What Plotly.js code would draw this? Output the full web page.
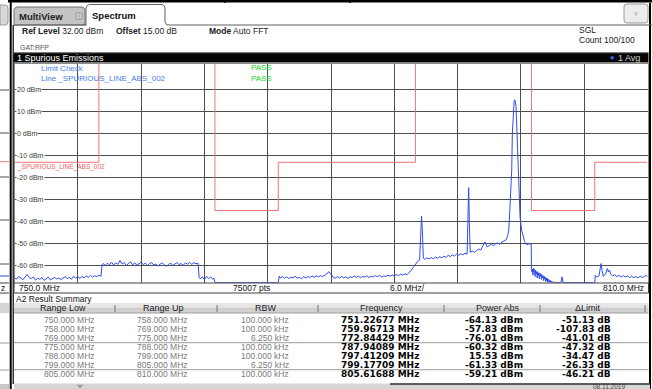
<!DOCTYPE html>
<html><head><meta charset="utf-8">
<script src="https://cdn.plot.ly/plotly-3.0.1.min.js"></script>
<style>html,body{margin:0;padding:0;background:#fff;overflow:hidden}#chart{width:652px;height:389px}</style>
</head><body><div id="chart"></div>
<script>
// ---------- DATA ----------
const traceFreq = [
750.0,750.2,750.4,750.6,750.8,751.0,751.2,751.4,751.6,751.8,752.0,752.2,752.4,752.6,752.8,753.0,753.2,753.4,753.6,753.8,754.0,754.2,754.4,754.6,754.8,755.0,755.2,755.4,755.6,755.8,756.0,756.2,756.4,756.6,756.8,757.0,757.2,757.4,757.6,757.8,758.0,758.2,
758.3,
758.4,758.6,758.8,759.0,759.2,759.4,759.6,759.8,760.0,760.2,760.4,760.6,760.8,761.0,761.2,761.4,761.6,761.8,762.0,762.2,762.4,762.6,762.8,763.0,763.2,763.4,763.6,763.8,764.0,764.2,764.4,764.6,764.8,765.0,765.2,765.4,765.6,765.8,766.0,766.2,766.4,766.6,766.8,767.0,767.2,767.4,
767.5,767.6,767.8,768.0,768.2,768.4,768.6,768.8,768.9,
769.0,775.0,775.1,
775.2,775.4,775.6,775.8,776.0,776.2,776.4,776.6,776.8,777.0,777.2,777.4,777.6,777.8,778.0,778.2,778.4,778.6,778.8,779.0,779.2,779.4,779.6,779.8,780.0,780.2,780.4,780.6,780.8,781.0,781.2,781.4,781.6,781.8,782.0,782.2,782.4,782.6,782.8,783.0,783.2,783.4,783.6,783.8,784.0,784.2,784.4,784.6,784.8,785.0,785.2,785.4,785.6,785.8,786.0,786.2,786.4,786.6,786.8,787.0,787.2,787.4,
787.6,787.8,788.0,788.2,788.4,788.5,788.58,788.66,788.75,
788.9,789.1,789.3,789.5,789.7,789.9,790.1,790.3,790.5,790.7,790.9,791.1,791.3,791.5,791.7,791.9,792.1,792.3,792.5,792.7,792.9,
793.0,793.05,793.12,793.2,
793.4,793.6,793.8,794.0,794.2,794.4,794.6,794.8,795.0,795.2,795.4,795.6,795.8,796.0,796.2,796.4,796.6,
796.75,796.85,796.95,797.05,797.13,797.19,797.28,797.36,797.41,797.47,797.54,797.63,797.7,797.8,797.92,798.07,798.22,798.35,798.48,798.6,798.75,798.9,798.98,
799.0,
799.05,799.1,799.15,799.2,799.25,799.3,799.35,799.4,799.45,799.5,799.55,799.6,799.65,799.7,799.75,799.8,799.85,799.9,799.95,800.0,800.05,800.1,800.15,800.2,800.25,800.3,800.35,800.4,800.45,800.5,800.55,800.6,800.65,800.7,800.75,800.8,800.85,800.9,800.95,801.0,801.1,
801.8,801.9,802.0,805.0,
805.05,805.2,805.4,805.5,805.6,805.7,805.8,806.0,806.1,806.2,806.3,806.4,806.5,806.7,806.9,807.1,807.3,807.5,807.7,807.9,808.1,808.3,808.5,808.7,808.9,809.1,809.3,809.5,809.7,809.9,810.0
];
const traceLevel = [
-65.8,-66.3,-65.1,-65.9,-66.6,-65.4,-64.2,-65.7,-66.1,-65.3,-66.8,-65.9,-66.4,-65.6,-66.9,-66.2,-65.4,-66.7,-66.0,-65.5,-66.3,-65.8,-66.5,-65.9,-65.2,-66.1,-65.6,-66.4,-65.0,-65.8,-65.3,-66.0,-65.1,-65.7,-64.9,-65.5,-64.6,-65.4,-64.8,-65.2,-64.5,-65.0,
-59.8,
-59.2,-60.1,-59.0,-59.8,-58.6,-59.9,-58.9,-59.6,-57.8,-59.4,-58.7,-60.2,-59.1,-58.5,-59.8,-58.9,-60.0,-59.3,-58.6,-59.7,-59.0,-60.3,-59.2,-58.8,-59.9,-59.4,-60.4,-59.5,-58.9,-59.8,-60.5,-59.6,-59.0,-60.1,-59.4,-58.8,-59.7,-59.2,-60.0,-58.9,-59.5,-58.7,-59.6,-58.8,-59.3,-59.1,
-65.6,-66.2,-65.3,-66.5,-65.1,-66.0,-65.4,-66.3,-65.8,
-67.9,-67.9,-64.9,
-65.8,-65.1,-65.9,-65.3,-66.1,-65.4,-65.7,-65.0,-65.9,-65.5,-66.2,-65.2,-65.8,-65.1,-65.6,-64.9,-65.5,-64.8,-65.3,-64.7,-65.2,-64.6,-64.0,-62.9,-64.3,-65.4,-65.9,-65.2,-65.8,-65.1,-65.7,-65.3,-66.0,-65.2,-65.6,-64.9,-65.5,-65.0,-65.7,-65.1,-65.4,-64.8,-65.6,-65.0,-65.3,-64.7,-65.2,-64.6,-65.4,-64.9,-65.1,-64.5,-65.0,-64.4,-64.9,-64.2,-64.7,-64.1,-64.5,-63.9,-64.3,-63.4,
-62.3,-61.0,-59.5,-58.3,-57.6,-45.0,-37.5,-44.0,-56.8,
-57.3,-56.6,-57.1,-56.5,-57.0,-56.3,-56.8,-56.1,-56.6,-55.9,-56.4,-55.5,-56.0,-55.3,-55.8,-54.9,-55.4,-54.7,-55.2,-54.5,-54.9,
-40.0,-24.6,-42.0,-54.0,
-53.5,-54.1,-53.2,-52.6,-53.0,-51.4,-49.3,-51.6,-51.0,-50.4,-51.1,-50.2,-49.8,-50.5,-49.4,-48.9,-48.4,
-46.5,-43.9,-35.0,-24.0,-16.5,0.2,12.4,15.0,15.53,14.8,12.4,0.0,-16.5,-28.0,-38.0,-43.9,-47.0,-49.2,-50.3,-50.6,-50.2,-50.5,-50.4,
-61.5,
-63.0,-61.8,-64.5,-61.3,-63.2,-62.0,-65.1,-62.4,-64.0,-62.9,-65.8,-63.0,-64.6,-63.5,-66.2,-63.6,-65.0,-64.1,-66.5,-64.3,-65.7,-64.8,-67.0,-65.0,-66.3,-65.4,-67.4,-65.8,-66.9,-66.0,-67.8,-66.4,-67.3,-66.7,-67.9,-67.0,-67.6,-67.2,-67.9,-67.5,-67.9,
-67.9,-65.3,-67.9,-67.9,
-64.6,-65.3,-64.8,-62.0,-59.2,-62.5,-65.0,-64.2,-62.6,-61.5,-63.0,-62.2,-64.0,-64.8,-64.3,-65.2,-64.6,-65.4,-64.7,-65.3,-64.9,-65.6,-65.0,-65.7,-65.1,-65.8,-64.9,-65.6,-65.2,-64.6,-65.3
];
const limitStart = [750, 758, 769, 775, 788, 799, 805];
const limitStop  = [758, 769, 775, 788, 799, 805, 810];
const limitLevel = [-13, 50, -35, -13, 50, -35, -13];
const yTickVals = [20, 10, 0, -10, -20, -30, -40, -50, -60];
const yTickText = ['20 dBm', '10 dBm', '0 dBm', '-10 dBm', '-20 dBm', '-30 dBm', '-40 dBm', '-50 dBm', '-60 dBm'];
const xGridVals = [756, 762, 768, 774, 780, 786, 792, 798, 804];
const tableHeaders = ['Range Low', 'Range Up', 'RBW', 'Frequency', 'Power Abs', '\u0394Limit'];
const rangeLow = ['750.000 MHz', '758.000 MHz', '769.000 MHz', '775.000 MHz', '788.000 MHz', '799.000 MHz', '805.000 MHz'];
const rangeUp  = ['758.000 MHz', '769.000 MHz', '775.000 MHz', '788.000 MHz', '799.000 MHz', '805.000 MHz', '810.000 MHz'];
const rbw      = ['100.000 kHz', '100.000 kHz', '6.250 kHz', '100.000 kHz', '100.000 kHz', '6.250 kHz', '100.000 kHz'];
const peakFreq = ['751.22677 MHz', '759.96713 MHz', '772.84429 MHz', '787.94089 MHz', '797.41209 MHz', '799.17709 MHz', '805.61688 MHz'];
const powerAbs = ['-64.13 dBm', '-57.83 dBm', '-76.01 dBm', '-60.32 dBm', '15.53 dBm', '-61.33 dBm', '-59.21 dBm'];
const deltaLimit = ['-51.13 dB', '-107.83 dB', '-41.01 dB', '-47.32 dB', '-34.47 dB', '-26.33 dB', '-46.21 dB'];

// ---------- LAYOUT HELPERS ----------
const W = 652, H = 389;
const X = p => p / W, Y = p => 1 - p / H;
const FONT = 'Liberation Sans, Arial, sans-serif';
const shapes = [], annotations = [];
function rect(x0, y0, x1, y1, fill, line, lw, layer) {
  shapes.push({type:'rect', xref:'paper', yref:'paper', x0:X(x0), x1:X(x1), y0:Y(y1), y1:Y(y0),
    fillcolor: fill || 'rgba(0,0,0,0)', line:{color: line || 'rgba(0,0,0,0)', width: lw === undefined ? (line ? 1 : 0) : lw}, layer: layer || 'above'});
}
function seg(x0, y0, x1, y1, color, w, layer) {
  shapes.push({type:'line', xref:'paper', yref:'paper', x0:X(x0), x1:X(x1), y0:Y(y0), y1:Y(y1),
    line:{color:color, width:w || 1}, layer: layer || 'above'});
}
function path(d, fill, line, lw, layer) {
  const pd = d.replace(/(-?[\d.]+),(-?[\d.]+)/g, (m, a, b) => X(+a).toFixed(5) + ',' + Y(+b).toFixed(5));
  shapes.push({type:'path', xref:'paper', yref:'paper', path: pd, fillcolor: fill || 'rgba(0,0,0,0)',
    line:{color: line || 'rgba(0,0,0,0)', width: lw === undefined ? 1 : lw}, layer: layer || 'above'});
}
function txt(x, y, s, size, color, o) {
  o = o || {};
  annotations.push({xref:'paper', yref:'paper', x:X(x), y:Y(y), text:s, showarrow:false,
    xanchor:o.anchor || 'left', yanchor:'middle', borderpad:o.pad === undefined ? 0 : o.pad,
    bgcolor:o.bg || 'rgba(0,0,0,0)',
    font:{family:o.family || FONT, size:size, color:color, weight:o.weight || 'normal'}});
}

// ---------- CHROME ----------
seg(8, 1.2, 652, 1.2, '#000', 2.5);
seg(225, 0, 225, 3, '#000', 1.5);
seg(350, 0, 350, 3, '#000', 1.5);
// left strip (neighbouring window)
path('M0,5 L5,5 Q8,5 8,8 L8,22 Q8,25 5,25 L0,25 Z', '#d8d8d8', '#9a9a9a', 1);
[90, 133, 177, 220, 264].forEach(v => seg(0, v, 9, v, '#505050', 1));
seg(0, 161.7, 9, 161.7, '#f07070', 1);
seg(0, 276, 9, 276, '#3050ee', 1);
txt(0, 288, 'z', 8.5, '#111');
seg(0, 283, 9, 283, '#444', 1);
seg(0, 293, 9, 293, '#444', 1);
rect(0, 303, 9, 313, '#d4d4d4', null, 0);
seg(0, 343, 9, 343, '#999', 1);
seg(0, 370, 9, 370, '#999', 1);
rect(0, 384, 9, 389, '#c8c8c8', null, 0);
seg(10.7, 0, 10.7, 389, '#000', 2);
seg(13.2, 25, 13.2, 384, '#000', 1.2);
seg(650, 3, 650, 389, '#000', 2);

// tabs
path('M14,25 L14,11 Q14,7 18,7 L81,7 Q85,7 85,11 L85,25 Z', '#c4c4c4', '#707070', 1);
txt(18, 16.5, '<b>MultiView</b>', 9.5, '#222');
rect(76, 13, 82, 19, '#e0e0e0', '#8a8a8a', 0.8);
seg(79, 13, 79, 19, '#8a8a8a', 0.6);
seg(76, 16, 82, 16, '#8a8a8a', 0.6);
path('M86,25.5 L86,9 Q86,4.5 90.5,4.5 L161,4.5 Q165,4.5 165,9 L165,21 Q165,25 169,25 L652,25', '#ffffff', '#606060', 1);
seg(14, 25, 86, 25, '#606060', 1);
txt(91, 15.5, '<b>Spectrum</b>', 9.5, '#111');
path('M627,4 L645,4 Q648,4 648,7 L648,20 Q648,23 645,23 L627,23 Q624,23 624,20 L624,7 Q624,4 627,4 Z', '#ececec', '#9a9a9a', 1);
txt(636, 13.5, '\u25BF', 7, '#888', {anchor:'center'});

// info lines
txt(21, 31, '<b>Ref Level</b> 32.00 dBm', 8.5, '#222');
txt(115, 31, '<b>Offset</b> 15.00 dB', 8.5, '#222');
txt(208, 31, '<b>Mode</b> Auto FFT', 8.5, '#222');
txt(578, 30, 'SGL', 8.5, '#222');
txt(578, 40.5, 'Count 100/100', 8.5, '#222');
txt(19, 47.5, 'GAT:RFP', 7, '#555');

// title bar
rect(13.5, 52.5, 648.5, 62.5, '#050505', null, 0);
seg(13.5, 52.8, 648.5, 52.8, '#777', 0.8);
txt(16, 57.8, '1 Spurious Emissions', 9, '#ffffff');
shapes.push({type:'circle', xref:'paper', yref:'paper', x0:X(610.5), x1:X(614), y0:Y(59.5), y1:Y(56), fillcolor:'#3060ff', line:{width:0}, layer:'above'});
txt(617, 57.8, '1 Avg', 9, '#cfcfcf');

// in-plot texts
txt(40, 68.5, 'Limit Check', 8, '#4a7cf0');
txt(40, 78.5, 'Line _SPURIOUS_LINE_ABS_002', 8, '#4a7cf0');
txt(250, 68, 'PASS', 8, '#20dd20');
txt(250, 78.5, 'PASS', 8, '#20dd20');
txt(16, 167, '_SPURIOUS_LINE_ABS_002', 6.5, '#f06060');
const yPix = v => 63.7 + (32 - v) * 2.19;
yTickVals.forEach((v, i) => txt(16, yPix(v), yTickText[i], 7, '#3a3a3a', {bg:'#ffffff', pad:0}));

// bottom axis bar
rect(14, 283, 648.5, 293, '#ffffff', '#404040', 1);
txt(18, 288, '750.0 MHz', 8.5, '#111');
txt(232, 288, '75007 pts', 8.5, '#111');
txt(389, 288, '6.0 MHz/', 8.5, '#111');
txt(645, 288, '810.0 MHz', 8.5, '#111', {anchor:'right'});

// result summary
txt(15, 298.5, 'A2 Result Summary', 8.5, '#111');
rect(14, 303, 648.5, 307.5, '#e6e6e6', null, 0);
rect(14, 307.5, 648.5, 313, '#d0d0d0', null, 0);
seg(14, 313, 648.5, 313, '#a0a0a0', 1);
[115, 217, 318, 444, 540, 645].forEach(x => seg(x, 305, x, 312, '#777', 1));
const headCenters = [63, 163, 266, 381, 498, 588];
tableHeaders.forEach((h, i) => txt(headCenters[i], 308, h, 9, '#222', {anchor:'center'}));
const rowY = [320, 329, 338, 347, 356, 365, 374];
seg(14, 342.7, 648.5, 342.7, '#9a9a9a', 1);
seg(14, 369.7, 648.5, 369.7, '#9a9a9a', 1);
rowY.forEach((y, i) => {
  txt(96, y, rangeLow[i], 8.5, '#7a7a7a', {anchor:'right'});
  txt(189, y, rangeUp[i], 8.5, '#7a7a7a', {anchor:'right'});
  txt(290, y, rbw[i], 8.5, '#7a7a7a', {anchor:'right'});
  txt(420, y, peakFreq[i], 9, '#050505', {anchor:'right', family:'DejaVu Sans, sans-serif', weight:'bold'});
  txt(524, y, powerAbs[i], 9, '#050505', {anchor:'right', family:'DejaVu Sans, sans-serif', weight:'bold'});
  txt(612, y, deltaLimit[i], 9, '#050505', {anchor:'right', family:'DejaVu Sans, sans-serif', weight:'bold'});
});
// bottom status strip
rect(14, 383.5, 650, 389, '#d6d6d6', null, 0);
seg(390, 384, 650, 384, '#303030', 1.5);
path('M77,385 L83,385 L80,388 Z', '#9a9a9a', '#9a9a9a', 0.5);
txt(592, 386.3, '08.11.2019', 6.5, '#444');

// ---------- TRACES ----------
const limX = [], limY = [];
limitStart.forEach((s, i) => { limX.push(s, limitStop[i]); limY.push(limitLevel[i], limitLevel[i]); });

const data = [
  {type:'scatter', mode:'lines', x: limX, y: limY, line:{color:'#f07474', width:1}, hoverinfo:'skip', showlegend:false},
  {type:'scatter', mode:'lines', x: traceFreq, y: traceLevel, line:{color:'#2f4cf0', width:1}, hoverinfo:'skip', showlegend:false}
];

const layout = {
  width: W, height: H,
  margin: {l:0, r:0, t:0, b:0, pad:0},
  paper_bgcolor: '#ffffff', plot_bgcolor: '#ffffff',
  showlegend: false,
  xaxis: {domain:[14.5/W, 647.5/W], range:[750, 810], tickvals: xGridVals, showticklabels:false, ticks:'',
    showgrid:true, gridcolor:'#4e4e4e', gridwidth:1, zeroline:false, showline:true, mirror:true, linecolor:'#8a8a8a', linewidth:1, fixedrange:true},
  yaxis: {domain:[1 - 282.8/H, 1 - 63.7/H], range:[-68, 32], tickvals: yTickVals, showticklabels:false, ticks:'',
    showgrid:true, gridcolor:'#4e4e4e', gridwidth:1, zeroline:false, showline:true, mirror:true, linecolor:'#8a8a8a', linewidth:1, fixedrange:true},
  shapes: shapes,
  annotations: annotations
};
Plotly.newPlot('chart', data, layout, {displayModeBar:false, staticPlot:true});
</script>
</body></html>
